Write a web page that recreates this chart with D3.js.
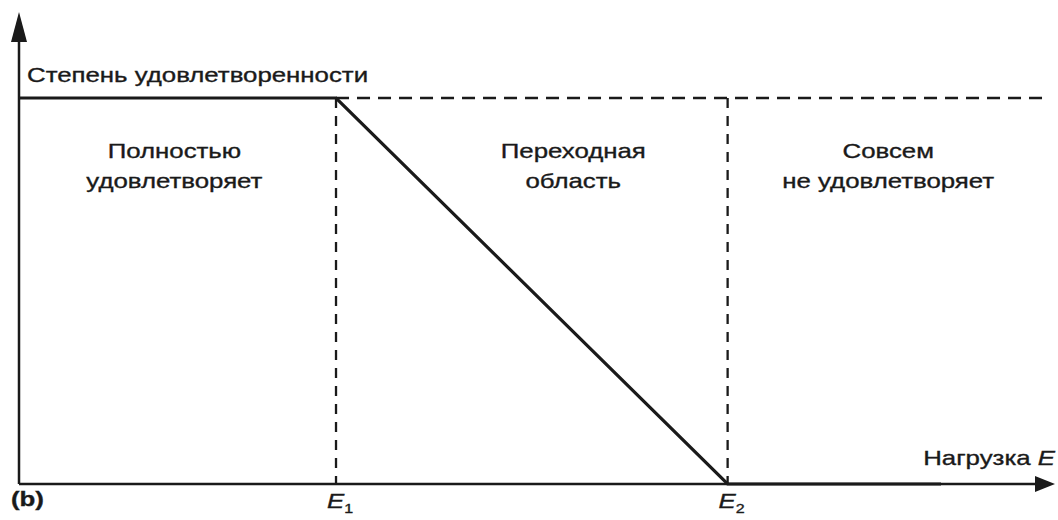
<!DOCTYPE html>
<html>
<head>
<meta charset="utf-8">
<script src="https://cdn.jsdelivr.net/npm/d3@7"></script>
<style>
  body { margin: 0; background: #fff; }
  text { font-family: "Liberation Sans", Arial, sans-serif; fill: #1a1a1a; font-size: 21px;
         stroke: #1a1a1a; stroke-width: 0.35px; }
</style>
</head>
<body>
<svg id="chart" width="1058" height="520"></svg>
<script>
// load (E) in arbitrary units, satisfaction from 0 to 1
var breakLoads = [3.06, 6.84];            // E1, E2
var breakNames = ["1", "2"];
var curveLoad = [0, 3.06, 6.84, 8.9];
var curveSatisfaction = [1, 1, 0, 0];
var regionCenters = [1.5, 5.35, 8.39];
var regionLabels = [["Полностью", "удовлетворяет"], ["Переходная", "область"], ["Совсем", "не удовлетворяет"]];
var yTitle = "Степень удовлетворенности",
	xTitle = "Нагрузка ",
	panelName = "(b)";

var ink = "#1a1a1a";
var stretch = 1.23; // the lettering in the original is drawn wide
var svg = d3.select("#chart");
var x = d3.scaleLinear().domain([0, 10]).range([19, 1055]);
var y = d3.scaleLinear().domain([0, 1]).range([484, 98]);

// places a text group at px,py with the wide lettering
function label(px, py) {
	return svg.append("g")
		.attr("transform", "translate(" + px + "," + py + ") scale(" + stretch + ",1)")
		.append("text");
}

// dashed guides
svg.append("line")
	.attr("x1", x(breakLoads[0])).attr("x2", x(9.9))
	.attr("y1", y(1)).attr("y2", y(1))
	.attr("stroke", ink).attr("stroke-width", 2.3).attr("stroke-dasharray", "13,8");
svg.selectAll(".guide")
	.data(breakLoads)
	.enter().append("line")
	.attr("class", "guide")
	.attr("x1", function(d) { return x(d); }).attr("x2", function(d) { return x(d); })
	.attr("y1", y(1)).attr("y2", y(0))
	.attr("stroke", ink).attr("stroke-width", 2.3).attr("stroke-dasharray", "10,8");

// axes with arrow heads
svg.append("line")
	.attr("x1", x(0)).attr("x2", x(0))
	.attr("y1", y(0)).attr("y2", y(1.2))
	.attr("stroke", ink).attr("stroke-width", 2.5);
svg.append("path")
	.attr("d", "M" + x(0) + "," + y(1.223) + "L" + (x(0) - 8) + "," + y(1.145) + "L" + (x(0) + 8) + "," + y(1.145) + "Z")
	.attr("fill", ink);
svg.append("line")
	.attr("x1", x(0)).attr("x2", x(9.85))
	.attr("y1", y(0)).attr("y2", y(0))
	.attr("stroke", ink).attr("stroke-width", 2.5);
svg.append("path")
	.attr("d", "M" + x(10) + "," + y(0) + "L" + (x(10) - 20) + "," + (y(0) - 8) + "L" + (x(10) - 20) + "," + (y(0) + 8) + "Z")
	.attr("fill", ink);

// satisfaction curve
var line = d3.line()
	.x(function(d, i) { return x(curveLoad[i]); })
	.y(function(d) { return y(d); });
svg.append("path")
	.datum(curveSatisfaction)
	.attr("d", line)
	.attr("fill", "none")
	.attr("stroke", ink)
	.attr("stroke-width", 3.2)
	.attr("stroke-linejoin", "miter");

// region labels
regionLabels.forEach(function(d, i) {
	var t = label(x(regionCenters[i]), 158).attr("text-anchor", "middle");
	t.append("tspan").attr("x", 0).attr("y", 0).text(d[0]);
	t.append("tspan").attr("x", 0).attr("y", 30).text(d[1]);
});

// titles
label(27, 82).text(yTitle);
var xt = label(1055, 465).attr("text-anchor", "end").text(xTitle);
xt.append("tspan").style("font-style", "italic").text("E");

label(11, 506).style("font-weight", "bold").text(panelName);

// E1, E2 marks
breakLoads.forEach(function(d, i) {
	var t = label(x(d) - 9, 508);
	t.append("tspan").style("font-style", "italic").text("E");
	t.append("tspan")
		.attr("dy", 5)
		.style("font-size", "13px")
		.text(breakNames[i]);
});
</script>
</body>
</html>
